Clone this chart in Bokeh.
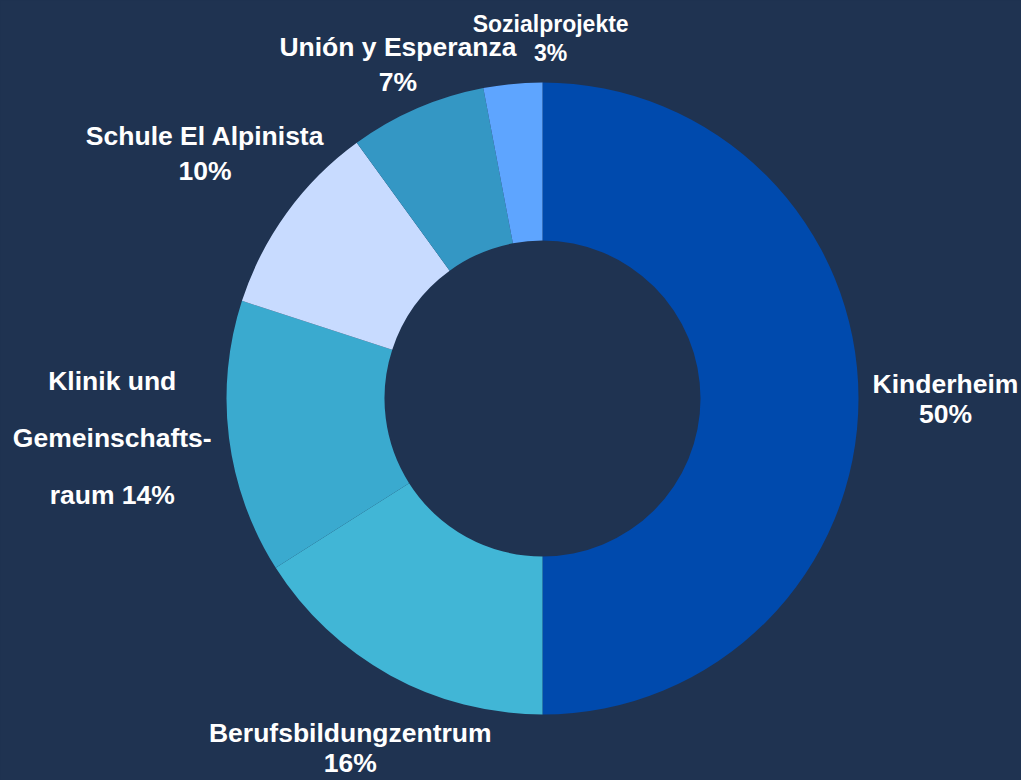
import math
from bokeh.plotting import figure
from bokeh.models import Range1d
from bokeh.core.properties import value
from bokeh.embed import file_html
from bokeh.resources import INLINE

# ---- data ----
categories = ["Kinderheim", "Berufsbildungzentrum", "Klinik und Gemeinschaftsraum",
              "Schule El Alpinista", "Unión y Esperanza", "Sozialprojekte"]
shares = [50, 16, 14, 10, 7, 3]
label_texts = ["Kinderheim\n50%", "Berufsbildungzentrum\n16%", "Klinik und\nGemeinschafts-\nraum 14%",
               "Schule El Alpinista\n10%", "Unión y Esperanza\n7%", "Sozialprojekte\n3%"]
colors = ["#004aad", "#41b6d6", "#3aaacf", "#c8dbff", "#3497c4", "#5ea5ff"]

# ---- layout / style ----
BG = "#1f3351"
W, H = 1021, 780
CX, CY = 542, 780 - 398
R_OUT, R_IN = 316, 158
label_radius = [403, 399, 432, 417, 364, 360]
label_nudge_deg = [0, 0, -2, 0, 0, -6.7]
label_size = ["26.5px", "26.5px", "26.5px", "26.5px", "26.5px", "23px"]
label_line_height = [1.0, 1.0, 1.9, 1.15, 1.15, 1.13]

p = figure(width=W, height=H, output_backend="svg", toolbar_location=None,
           x_range=Range1d(0, W), y_range=Range1d(0, H),
           min_border=0, outline_line_color=None,
           background_fill_color=BG, border_fill_color=BG)
p.axis.visible = False
p.grid.visible = False

total = float(sum(shares))
starts, ends, mids = [], [], []
cum = 0.0
for v in shares:
    a0 = math.pi / 2 - 2 * math.pi * cum / total
    cum += v
    a1 = math.pi / 2 - 2 * math.pi * cum / total
    starts.append(a0)
    ends.append(a1)
    mids.append((a0 + a1) / 2)

p.annular_wedge(x=[CX] * len(shares), y=[CY] * len(shares),
                inner_radius=R_IN, outer_radius=R_OUT,
                start_angle=starts, end_angle=ends, direction="clock",
                fill_color=colors, line_color=None)

for i, t in enumerate(label_texts):
    a = mids[i] + math.radians(label_nudge_deg[i])
    lx = CX + label_radius[i] * math.cos(a)
    ly = CY + label_radius[i] * math.sin(a)
    p.text(x=[lx], y=[ly], text=[t], text_align="center", text_baseline="middle",
           text_font=value("Liberation Sans"), text_font_style="bold",
           text_font_size=label_size[i], text_color="white",
           text_line_height=label_line_height[i])

template = """{% block preamble %}<style>html, body { background: #1f3351; }</style>{% endblock %}"""
open("out.html", "w").write(file_html(p, INLINE, template=template))
